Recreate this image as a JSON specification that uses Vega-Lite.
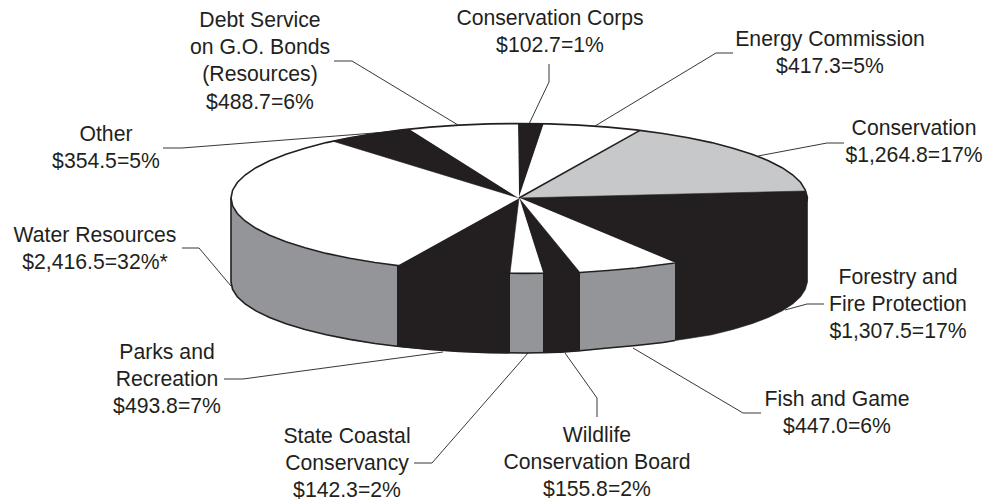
{"$schema":"https://vega.github.io/schema/vega-lite/v6.json","width":987,"height":504,"padding":0,"autosize":{"type":"none"},"background":"white","view":{"stroke":null},
"config":{"font":"Liberation Sans"},
"datasets":{
"faces":[
{"slice":"Water wall","i":0,"x":231,"y":198},{"slice":"Water wall","i":1,"x":232.6,"y":205.8},{"slice":"Water wall","i":2,"x":237.3,"y":213.5},{"slice":"Water wall","i":3,"x":245.1,"y":221},{"slice":"Water wall","i":4,"x":255.9,"y":228.3},{"slice":"Water wall","i":5,"x":269.6,"y":235.3},{"slice":"Water wall","i":6,"x":286,"y":241.8},{"slice":"Water wall","i":7,"x":305,"y":247.8},{"slice":"Water wall","i":8,"x":326.3,"y":253.4},{"slice":"Water wall","i":9,"x":349.7,"y":258.3},{"slice":"Water wall","i":10,"x":375,"y":262.5},{"slice":"Water wall","i":11,"x":397,"y":265.6},{"slice":"Water wall","i":12,"x":397,"y":346.2},{"slice":"Water wall","i":13,"x":375,"y":343.5},{"slice":"Water wall","i":14,"x":349.7,"y":339.4},{"slice":"Water wall","i":15,"x":326.3,"y":334.8},{"slice":"Water wall","i":16,"x":305,"y":329.5},{"slice":"Water wall","i":17,"x":286,"y":323.7},{"slice":"Water wall","i":18,"x":269.6,"y":317.5},{"slice":"Water wall","i":19,"x":255.9,"y":310.9},{"slice":"Water wall","i":20,"x":245.1,"y":303.9},{"slice":"Water wall","i":21,"x":237.3,"y":296.8},{"slice":"Water wall","i":22,"x":232.6,"y":289.4},{"slice":"Water wall","i":23,"x":231,"y":282},
{"slice":"Parks wall","i":0,"x":397,"y":265.6},{"slice":"Parks wall","i":1,"x":401.9,"y":266.1},{"slice":"Parks wall","i":2,"x":430,"y":268.9},{"slice":"Parks wall","i":3,"x":459.1,"y":270.9},{"slice":"Parks wall","i":4,"x":488.9,"y":272.1},{"slice":"Parks wall","i":5,"x":510,"y":273.2},{"slice":"Parks wall","i":6,"x":510,"y":352.9},{"slice":"Parks wall","i":7,"x":488.9,"y":352.6},{"slice":"Parks wall","i":8,"x":459.1,"y":351.4},{"slice":"Parks wall","i":9,"x":430,"y":349.5},{"slice":"Parks wall","i":10,"x":401.9,"y":346.9},{"slice":"Parks wall","i":11,"x":397,"y":346.2},
{"slice":"State wall","i":0,"x":510,"y":273.2},{"slice":"State wall","i":1,"x":525,"y":273.4},{"slice":"State wall","i":2,"x":543,"y":273.3},{"slice":"State wall","i":3,"x":543,"y":352.9},{"slice":"State wall","i":4,"x":525,"y":353},{"slice":"State wall","i":5,"x":510,"y":352.9},
{"slice":"Wildlife wall","i":0,"x":543,"y":273.3},{"slice":"Wildlife wall","i":1,"x":560,"y":273},{"slice":"Wildlife wall","i":2,"x":580,"y":272.5},{"slice":"Wildlife wall","i":3,"x":580,"y":350.8},{"slice":"Wildlife wall","i":4,"x":560,"y":352.3},{"slice":"Wildlife wall","i":5,"x":543,"y":352.9},
{"slice":"Fish wall","i":0,"x":580,"y":272.5},{"slice":"Fish wall","i":1,"x":608,"y":270.5},{"slice":"Fish wall","i":2,"x":636,"y":268},{"slice":"Fish wall","i":3,"x":663,"y":264.5},{"slice":"Fish wall","i":4,"x":675,"y":263},{"slice":"Fish wall","i":5,"x":675,"y":340.5},{"slice":"Fish wall","i":6,"x":663,"y":342.5},{"slice":"Fish wall","i":7,"x":636,"y":345.5},{"slice":"Fish wall","i":8,"x":608,"y":348},{"slice":"Fish wall","i":9,"x":580,"y":350.8},
{"slice":"Forestry wall","i":0,"x":675,"y":263},{"slice":"Forestry wall","i":1,"x":688.3,"y":260},{"slice":"Forestry wall","i":2,"x":711.7,"y":255},{"slice":"Forestry wall","i":3,"x":733,"y":249},{"slice":"Forestry wall","i":4,"x":752,"y":243},{"slice":"Forestry wall","i":5,"x":768.4,"y":236},{"slice":"Forestry wall","i":6,"x":782.1,"y":229},{"slice":"Forestry wall","i":7,"x":792.9,"y":221.5},{"slice":"Forestry wall","i":8,"x":800.7,"y":213.5},{"slice":"Forestry wall","i":9,"x":805.4,"y":205.8},{"slice":"Forestry wall","i":10,"x":807.5,"y":198},{"slice":"Forestry wall","i":11,"x":807.5,"y":282},{"slice":"Forestry wall","i":12,"x":805.4,"y":289.4},{"slice":"Forestry wall","i":13,"x":800.7,"y":296.8},{"slice":"Forestry wall","i":14,"x":792.9,"y":303.9},{"slice":"Forestry wall","i":15,"x":782.1,"y":310.9},{"slice":"Forestry wall","i":16,"x":768.4,"y":317.5},{"slice":"Forestry wall","i":17,"x":752,"y":323.7},{"slice":"Forestry wall","i":18,"x":733,"y":329.5},{"slice":"Forestry wall","i":19,"x":711.7,"y":334.8},{"slice":"Forestry wall","i":20,"x":688.3,"y":338.5},{"slice":"Forestry wall","i":21,"x":675,"y":340.5},
{"slice":"Corps","i":0,"x":519,"y":198},{"slice":"Corps","i":1,"x":518,"y":123.5},{"slice":"Corps","i":2,"x":530,"y":123.6},{"slice":"Corps","i":3,"x":544,"y":123.8},
{"slice":"Energy","i":0,"x":519,"y":198},{"slice":"Energy","i":1,"x":544,"y":123.8},{"slice":"Energy","i":2,"x":578.9,"y":125.1},{"slice":"Energy","i":3,"x":608,"y":127.1},{"slice":"Energy","i":4,"x":636.1,"y":129.9},{"slice":"Energy","i":5,"x":640,"y":130.4},
{"slice":"Conservation","i":0,"x":519,"y":198},{"slice":"Conservation","i":1,"x":640,"y":130.4},{"slice":"Conservation","i":2,"x":663,"y":133.5},{"slice":"Conservation","i":3,"x":688.3,"y":137.7},{"slice":"Conservation","i":4,"x":711.7,"y":142.6},{"slice":"Conservation","i":5,"x":733,"y":148.2},{"slice":"Conservation","i":6,"x":752,"y":154.2},{"slice":"Conservation","i":7,"x":768.4,"y":160.7},{"slice":"Conservation","i":8,"x":782.1,"y":167.7},{"slice":"Conservation","i":9,"x":792.9,"y":175},{"slice":"Conservation","i":10,"x":800.7,"y":182.5},{"slice":"Conservation","i":11,"x":805,"y":191},
{"slice":"Forestry","i":0,"x":519,"y":198},{"slice":"Forestry","i":1,"x":805,"y":191},{"slice":"Forestry","i":2,"x":807.5,"y":198},{"slice":"Forestry","i":3,"x":805.4,"y":205.8},{"slice":"Forestry","i":4,"x":800.7,"y":213.5},{"slice":"Forestry","i":5,"x":792.9,"y":221.5},{"slice":"Forestry","i":6,"x":782.1,"y":229},{"slice":"Forestry","i":7,"x":768.4,"y":236},{"slice":"Forestry","i":8,"x":752,"y":243},{"slice":"Forestry","i":9,"x":733,"y":249},{"slice":"Forestry","i":10,"x":711.7,"y":255},{"slice":"Forestry","i":11,"x":688.3,"y":260},{"slice":"Forestry","i":12,"x":675,"y":263},
{"slice":"Fish","i":0,"x":519,"y":198},{"slice":"Fish","i":1,"x":675,"y":263},{"slice":"Fish","i":2,"x":663,"y":264.5},{"slice":"Fish","i":3,"x":636,"y":268},{"slice":"Fish","i":4,"x":608,"y":270.5},{"slice":"Fish","i":5,"x":580,"y":272.5},
{"slice":"Wildlife","i":0,"x":519,"y":198},{"slice":"Wildlife","i":1,"x":580,"y":272.5},{"slice":"Wildlife","i":2,"x":560,"y":273},{"slice":"Wildlife","i":3,"x":543,"y":273.3},
{"slice":"State","i":0,"x":519,"y":198},{"slice":"State","i":1,"x":543,"y":273.3},{"slice":"State","i":2,"x":525,"y":273.4},{"slice":"State","i":3,"x":510,"y":273.2},
{"slice":"Parks","i":0,"x":519,"y":198},{"slice":"Parks","i":1,"x":510,"y":273.2},{"slice":"Parks","i":2,"x":488.9,"y":272.1},{"slice":"Parks","i":3,"x":459.1,"y":270.9},{"slice":"Parks","i":4,"x":430,"y":268.9},{"slice":"Parks","i":5,"x":401.9,"y":266.1},{"slice":"Parks","i":6,"x":397,"y":265.6},
{"slice":"Water","i":0,"x":519,"y":198},{"slice":"Water","i":1,"x":397,"y":265.6},{"slice":"Water","i":2,"x":375,"y":262.5},{"slice":"Water","i":3,"x":349.7,"y":258.3},{"slice":"Water","i":4,"x":326.3,"y":253.4},{"slice":"Water","i":5,"x":305,"y":247.8},{"slice":"Water","i":6,"x":286,"y":241.8},{"slice":"Water","i":7,"x":269.6,"y":235.3},{"slice":"Water","i":8,"x":255.9,"y":228.3},{"slice":"Water","i":9,"x":245.1,"y":221},{"slice":"Water","i":10,"x":237.3,"y":213.5},{"slice":"Water","i":11,"x":232.6,"y":205.8},{"slice":"Water","i":12,"x":231,"y":198},{"slice":"Water","i":13,"x":232.6,"y":190.2},{"slice":"Water","i":14,"x":237.3,"y":182.5},{"slice":"Water","i":15,"x":245.1,"y":175},{"slice":"Water","i":16,"x":255.9,"y":167.7},{"slice":"Water","i":17,"x":269.6,"y":160.7},{"slice":"Water","i":18,"x":286,"y":154.2},{"slice":"Water","i":19,"x":305,"y":148.2},{"slice":"Water","i":20,"x":326.3,"y":142.6},{"slice":"Water","i":21,"x":333,"y":141.2},
{"slice":"Other","i":0,"x":519,"y":198},{"slice":"Other","i":1,"x":333,"y":141.2},{"slice":"Other","i":2,"x":349.7,"y":137.7},{"slice":"Other","i":3,"x":375,"y":133.5},{"slice":"Other","i":4,"x":401.9,"y":129.9},{"slice":"Other","i":5,"x":410,"y":129.2},
{"slice":"Debt","i":0,"x":519,"y":198},{"slice":"Debt","i":1,"x":410,"y":129.2},{"slice":"Debt","i":2,"x":430,"y":127.1},{"slice":"Debt","i":3,"x":459.1,"y":125.1},{"slice":"Debt","i":4,"x":488.9,"y":123.9},{"slice":"Debt","i":5,"x":518,"y":123.5}
],
"rims":[
{"rim":"top","i":0,"x":807.5,"y":198},{"rim":"top","i":1,"x":805.4,"y":205.8},{"rim":"top","i":2,"x":800.7,"y":213.5},{"rim":"top","i":3,"x":792.9,"y":221.5},{"rim":"top","i":4,"x":782.1,"y":229},{"rim":"top","i":5,"x":768.4,"y":236},{"rim":"top","i":6,"x":752,"y":243},{"rim":"top","i":7,"x":733,"y":249},{"rim":"top","i":8,"x":711.7,"y":255},{"rim":"top","i":9,"x":688.3,"y":260},{"rim":"top","i":10,"x":675,"y":263},{"rim":"top","i":11,"x":663,"y":264.5},{"rim":"top","i":12,"x":636,"y":268},{"rim":"top","i":13,"x":608,"y":270.5},{"rim":"top","i":14,"x":580,"y":272.5},{"rim":"top","i":15,"x":560,"y":273},{"rim":"top","i":16,"x":543,"y":273.3},{"rim":"top","i":17,"x":525,"y":273.4},{"rim":"top","i":18,"x":510,"y":273.2},{"rim":"top","i":19,"x":488.9,"y":272.1},{"rim":"top","i":20,"x":459.1,"y":270.9},{"rim":"top","i":21,"x":430,"y":268.9},{"rim":"top","i":22,"x":401.9,"y":266.1},{"rim":"top","i":23,"x":375,"y":262.5},{"rim":"top","i":24,"x":349.7,"y":258.3},{"rim":"top","i":25,"x":326.3,"y":253.4},{"rim":"top","i":26,"x":305,"y":247.8},{"rim":"top","i":27,"x":286,"y":241.8},{"rim":"top","i":28,"x":269.6,"y":235.3},{"rim":"top","i":29,"x":255.9,"y":228.3},{"rim":"top","i":30,"x":245.1,"y":221},{"rim":"top","i":31,"x":237.3,"y":213.5},{"rim":"top","i":32,"x":232.6,"y":205.8},{"rim":"top","i":33,"x":231,"y":198},{"rim":"top","i":34,"x":232.6,"y":190.2},{"rim":"top","i":35,"x":237.3,"y":182.5},{"rim":"top","i":36,"x":245.1,"y":175},{"rim":"top","i":37,"x":255.9,"y":167.7},{"rim":"top","i":38,"x":269.6,"y":160.7},{"rim":"top","i":39,"x":286,"y":154.2},{"rim":"top","i":40,"x":305,"y":148.2},{"rim":"top","i":41,"x":326.3,"y":142.6},{"rim":"top","i":42,"x":349.7,"y":137.7},{"rim":"top","i":43,"x":375,"y":133.5},{"rim":"top","i":44,"x":401.9,"y":129.9},{"rim":"top","i":45,"x":430,"y":127.1},{"rim":"top","i":46,"x":459.1,"y":125.1},{"rim":"top","i":47,"x":488.9,"y":123.9},{"rim":"top","i":48,"x":519,"y":123.5},{"rim":"top","i":49,"x":549.1,"y":123.9},{"rim":"top","i":50,"x":578.9,"y":125.1},{"rim":"top","i":51,"x":608,"y":127.1},{"rim":"top","i":52,"x":636.1,"y":129.9},{"rim":"top","i":53,"x":663,"y":133.5},{"rim":"top","i":54,"x":688.3,"y":137.7},{"rim":"top","i":55,"x":711.7,"y":142.6},{"rim":"top","i":56,"x":733,"y":148.2},{"rim":"top","i":57,"x":752,"y":154.2},{"rim":"top","i":58,"x":768.4,"y":160.7},{"rim":"top","i":59,"x":782.1,"y":167.7},{"rim":"top","i":60,"x":792.9,"y":175},{"rim":"top","i":61,"x":800.7,"y":182.5},{"rim":"top","i":62,"x":805.4,"y":190.2},{"rim":"top","i":63,"x":807.5,"y":198},
{"rim":"bottom","i":0,"x":231,"y":198},{"rim":"bottom","i":1,"x":231,"y":282},{"rim":"bottom","i":2,"x":232.6,"y":289.4},{"rim":"bottom","i":3,"x":237.3,"y":296.8},{"rim":"bottom","i":4,"x":245.1,"y":303.9},{"rim":"bottom","i":5,"x":255.9,"y":310.9},{"rim":"bottom","i":6,"x":269.6,"y":317.5},{"rim":"bottom","i":7,"x":286,"y":323.7},{"rim":"bottom","i":8,"x":305,"y":329.5},{"rim":"bottom","i":9,"x":326.3,"y":334.8},{"rim":"bottom","i":10,"x":349.7,"y":339.4},{"rim":"bottom","i":11,"x":375,"y":343.5},{"rim":"bottom","i":12,"x":397,"y":346.2},{"rim":"bottom","i":13,"x":430,"y":349.5},{"rim":"bottom","i":14,"x":459.1,"y":351.4},{"rim":"bottom","i":15,"x":488.9,"y":352.6},{"rim":"bottom","i":16,"x":525,"y":353},{"rim":"bottom","i":17,"x":560,"y":352.3},{"rim":"bottom","i":18,"x":580,"y":350.8},{"rim":"bottom","i":19,"x":608,"y":348},{"rim":"bottom","i":20,"x":636,"y":345.5},{"rim":"bottom","i":21,"x":663,"y":342.5},{"rim":"bottom","i":22,"x":675,"y":340.5},
{"rim":"radial","i":0,"x":519,"y":198},{"rim":"radial","i":1,"x":640,"y":130.4}
],
"leaders":[
{"label":"Debt","i":0,"x":334,"y":61},{"label":"Debt","i":1,"x":352,"y":61},{"label":"Debt","i":2,"x":458,"y":125},
{"label":"Other","i":0,"x":163,"y":148},{"label":"Other","i":1,"x":182,"y":148},{"label":"Other","i":2,"x":400,"y":131},
{"label":"Corps","i":0,"x":549,"y":64},{"label":"Corps","i":1,"x":549,"y":82},{"label":"Corps","i":2,"x":529,"y":124},
{"label":"Energy","i":0,"x":733,"y":53},{"label":"Energy","i":1,"x":716,"y":53},{"label":"Energy","i":2,"x":595,"y":126},
{"label":"Conservation","i":0,"x":844,"y":143},{"label":"Conservation","i":1,"x":827,"y":143},{"label":"Conservation","i":2,"x":758,"y":156},
{"label":"Water","i":0,"x":182,"y":248},{"label":"Water","i":1,"x":199,"y":248},{"label":"Water","i":2,"x":231,"y":286},
{"label":"Parks","i":0,"x":224,"y":379},{"label":"Parks","i":1,"x":243,"y":379},{"label":"Parks","i":2,"x":443,"y":352},
{"label":"State","i":0,"x":414,"y":463},{"label":"State","i":1,"x":432,"y":463},{"label":"State","i":2,"x":528,"y":353},
{"label":"Wildlife","i":0,"x":597,"y":417},{"label":"Wildlife","i":1,"x":597,"y":398},{"label":"Wildlife","i":2,"x":565,"y":353},
{"label":"Fish","i":0,"x":761,"y":413},{"label":"Fish","i":1,"x":743,"y":413},{"label":"Fish","i":2,"x":633,"y":348},
{"label":"Forestry","i":0,"x":824,"y":304},{"label":"Forestry","i":1,"x":807,"y":304},{"label":"Forestry","i":2,"x":785,"y":310}
],
"labels":[
{"text":"Debt Service\non G.O. Bonds\n(Resources)\n$488.7=6%","x":260,"y":27},
{"text":"Other\n$354.5=5%","x":106,"y":141},
{"text":"Conservation Corps\n$102.7=1%","x":550,"y":25},
{"text":"Energy Commission\n$417.3=5%","x":830,"y":46},
{"text":"Conservation\n$1,264.8=17%","x":914,"y":135},
{"text":"Water Resources\n$2,416.5=32%*","x":95,"y":242},
{"text":"Parks and\nRecreation\n$493.8=7%","x":167,"y":359},
{"text":"State Coastal\nConservancy\n$142.3=2%","x":347,"y":443},
{"text":"Wildlife\nConservation Board\n$155.8=2%","x":597,"y":442},
{"text":"Fish and Game\n$447.0=6%","x":837,"y":406},
{"text":"Forestry and\nFire Protection\n$1,307.5=17%","x":898,"y":284}
]},
"encoding":{
"x":{"field":"x","type":"quantitative","axis":null,"scale":{"domain":[0,987],"range":[0,987],"nice":false,"zero":false}},
"y":{"field":"y","type":"quantitative","axis":null,"scale":{"domain":[504,0],"range":[504,0],"nice":false,"zero":false}}
},
"layer":[
{"data":{"name":"faces"},"mark":{"type":"line","strokeWidth":0.6,"clip":false},
"encoding":{"order":{"field":"i"},
"fill":{"field":"slice","legend":null,"scale":{"domain":["Water wall","Parks wall","State wall","Wildlife wall","Fish wall","Forestry wall","Corps","Energy","Conservation","Forestry","Fish","Wildlife","State","Parks","Water","Other","Debt"],"range":["#939598","#231f20","#939598","#231f20","#939598","#231f20","#231f20","#ffffff","#c7c8ca","#231f20","#ffffff","#231f20","#ffffff","#231f20","#ffffff","#231f20","#ffffff"]}},
"stroke":{"field":"slice","legend":null,"scale":{"domain":["Water wall","Parks wall","State wall","Wildlife wall","Fish wall","Forestry wall","Corps","Energy","Conservation","Forestry","Fish","Wildlife","State","Parks","Water","Other","Debt"],"range":["#939598","#231f20","#939598","#231f20","#939598","#231f20","#231f20","#ffffff","#c7c8ca","#231f20","#ffffff","#231f20","#ffffff","#231f20","#ffffff","#231f20","#ffffff"]}}}},
{"data":{"name":"rims"},"mark":{"type":"line","color":"#231f20","strokeWidth":1.6},"encoding":{"order":{"field":"i"},"detail":{"field":"rim"}}},
{"data":{"name":"leaders"},"mark":{"type":"line","color":"#231f20","strokeWidth":0.9},"encoding":{"order":{"field":"i"},"detail":{"field":"label"}}},
{"data":{"name":"labels"},"mark":{"type":"text","font":"Liberation Sans","fontSize":21.2,"lineBreak":"\n","lineHeight":27.2,"align":"center","baseline":"alphabetic","color":"#231f20"},"encoding":{"text":{"field":"text"}}}
]}
